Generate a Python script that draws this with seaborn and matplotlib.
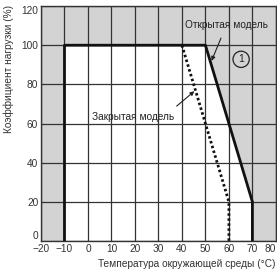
import matplotlib
matplotlib.use("Agg")
import matplotlib.pyplot as plt
import seaborn as sns
import pandas as pd

# Data
open_temp = [-10, -10, 50, 70, 70]
open_load = [0, 100, 100, 20, 0]
closed_temp = [40, 60, 60]
closed_load = [100, 20, 0]
x_ticks = [-20, -10, 0, 10, 20, 30, 40, 50, 60, 70, 80]
y_ticks = [0, 20, 40, 60, 80, 100, 120]

sns.set_theme(style="white")
plt.rcParams['font.family'] = ['Liberation Sans', 'DejaVu Sans']

fig = plt.figure(figsize=(2.77, 2.76), dpi=100)
ax = fig.add_axes([0.148, 0.127, 0.848, 0.851])
ax.set_facecolor('#d3d3d3')

df_open = pd.DataFrame({'t': open_temp, 'l': open_load})
df_closed = pd.DataFrame({'t': closed_temp, 'l': closed_load})

ax.fill(open_temp, open_load, color='white', zorder=0.5, lw=0)

sns.lineplot(data=df_open, x='t', y='l', sort=False, estimator=None, color='#111111',
             lw=2.0, ax=ax, zorder=3)
sns.lineplot(data=df_closed, x='t', y='l', sort=False, estimator=None, color='#111111',
             lw=2.0, ls=(0, (0.9, 0.9)), ax=ax, zorder=3)

ax.set_xlim(-20, 80)
ax.set_ylim(0, 120)
ax.set_xticks(x_ticks)
ax.set_yticks(y_ticks)
ax.set_xticklabels([('\u2212' + str(-v)) if v < 0 else str(v) for v in x_ticks])
ax.grid(True, color='#333333', lw=0.9)
ax.set_axisbelow(False)
ax.tick_params(axis='both', length=0, pad=2, labelsize=7.3, colors='#333333')
for s in ax.spines.values():
    s.set_color('#333333')
    s.set_linewidth(1.0)
ax.set_xlabel('')
ax.set_ylabel('')

ylabels = ax.get_yticklabels()
ylabels[0].set_va('bottom')
ylabels[-1].set_va('top')
xlabels = ax.get_xticklabels()
xlabels[-1].set_ha('right')

fig.text(0.03, 0.75, 'Коэффициент нагрузки (%)', rotation=90, ha='center', va='center',
         fontsize=7.3, color='#333333')
fig.text(0.995, 0.043, 'Температура окружающей среды (°C)', ha='right', va='center',
         fontsize=7.3, color='#333333')

ax.annotate('Открытая модель', xy=(52.6, 92), xytext=(59, 110.5), ha='center', va='center',
            fontsize=7.3, color='#222222',
            arrowprops=dict(arrowstyle='-|>', color='#222222', lw=0.8,
                            mutation_scale=6, shrinkA=4, shrinkB=0), zorder=5)
ax.annotate('Закрытая модель', xy=(45.3, 76.5), xytext=(19, 63.3), ha='center', va='center',
            fontsize=7.3, color='#222222',
            arrowprops=dict(arrowstyle='-|>', color='#222222', lw=0.8,
                            mutation_scale=6, shrinkA=3, shrinkB=0,
                            relpos=(0.95, 1.0)), zorder=5)
ax.text(65.2, 92.8, '1', ha='center', va='center', fontsize=7.5, color='#222222',
        bbox=dict(boxstyle='circle,pad=0.3', fc='none', ec='#222222', lw=0.9), zorder=5)

fig.savefig('out.png', dpi=100)
